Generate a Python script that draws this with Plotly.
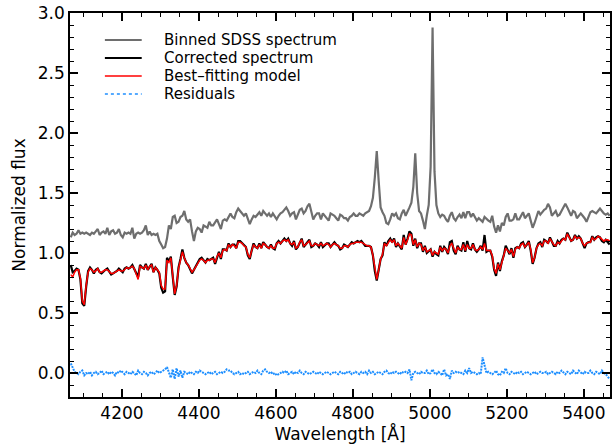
import plotly.graph_objects as go

# Wavelength grid of the binned spectrum [Angstrom]
WAVE_START = 4067
WAVE_STEP = 5
N_PIX = 281
wave = [WAVE_START + WAVE_STEP * i for i in range(N_PIX)]

binned_sdss = [
    1.13, 1.17, 1.15, 1.16, 1.19, 1.16, 1.17, 1.16, 1.17, 1.16,
    1.15, 1.17, 1.16, 1.18, 1.20, 1.15, 1.17, 1.18, 1.16, 1.21,
    1.15, 1.18, 1.19, 1.16, 1.17, 1.20, 1.15, 1.13, 1.17, 1.16,
    1.17, 1.16, 1.21, 1.12, 1.16, 1.17, 1.16, 1.17, 1.19, 1.23,
    1.15, 1.18, 1.15, 1.16, 1.15, 1.16, 1.10, 1.07, 1.04, 1.05,
    1.12, 1.23, 1.20, 1.30, 1.31, 1.25, 1.26, 1.30, 1.31, 1.35,
    1.28, 1.26, 1.28, 1.18, 1.10, 1.18, 1.21, 1.20, 1.17, 1.23,
    1.22, 1.21, 1.26, 1.23, 1.23, 1.26, 1.28, 1.24, 1.20, 1.27,
    1.28, 1.27, 1.30, 1.33, 1.30, 1.29, 1.34, 1.37, 1.35, 1.33,
    1.31, 1.33, 1.28, 1.24, 1.28, 1.31, 1.30, 1.32, 1.34, 1.31,
    1.35, 1.33, 1.31, 1.33, 1.30, 1.33, 1.31, 1.28, 1.31, 1.33,
    1.34, 1.36, 1.38, 1.35, 1.31, 1.33, 1.34, 1.28, 1.33, 1.36,
    1.37, 1.33, 1.35, 1.39, 1.41, 1.34, 1.28, 1.31, 1.33, 1.33,
    1.28, 1.33, 1.31, 1.29, 1.27, 1.33, 1.32, 1.31, 1.29, 1.27,
    1.32, 1.31, 1.29, 1.29, 1.27, 1.30, 1.31, 1.33, 1.31, 1.31,
    1.33, 1.32, 1.31, 1.33, 1.34, 1.35, 1.39, 1.46, 1.63, 1.85,
    1.60, 1.38, 1.34, 1.31, 1.25, 1.24, 1.28, 1.33, 1.31, 1.33,
    1.29, 1.28, 1.33, 1.36, 1.31, 1.34, 1.38, 1.42, 1.55, 1.83,
    1.50, 1.35, 1.33, 1.27, 1.20, 1.31, 1.40, 1.72, 2.88, 1.68,
    1.40, 1.33, 1.30, 1.32, 1.31, 1.28, 1.26, 1.31, 1.34, 1.29,
    1.27, 1.30, 1.32, 1.29, 1.34, 1.29, 1.34, 1.34, 1.30, 1.33,
    1.30, 1.27, 1.29, 1.27, 1.26, 1.30, 1.28, 1.27, 1.26, 1.31,
    1.22, 1.17, 1.23, 1.18, 1.25, 1.23, 1.30, 1.33, 1.27, 1.27,
    1.28, 1.33, 1.28, 1.28, 1.31, 1.34, 1.29, 1.31, 1.33, 1.27,
    1.21, 1.25, 1.30, 1.35, 1.32, 1.34, 1.36, 1.37, 1.41, 1.38,
    1.31, 1.33, 1.35, 1.31, 1.32, 1.35, 1.38, 1.41, 1.38, 1.34,
    1.31, 1.35, 1.34, 1.29, 1.31, 1.33, 1.31, 1.29, 1.26, 1.30,
    1.34, 1.35, 1.34, 1.33, 1.35, 1.37, 1.35, 1.33, 1.32, 1.33,
    1.31,
]

corrected = [
    0.90, 0.84, 0.85, 0.87, 0.86, 0.78, 0.58, 0.56, 0.72, 0.85,
    0.88, 0.86, 0.83, 0.86, 0.87, 0.84, 0.83, 0.85, 0.86, 0.87,
    0.84, 0.82, 0.83, 0.84, 0.85, 0.87, 0.85, 0.84, 0.87, 0.88,
    0.87, 0.88, 0.90, 0.87, 0.84, 0.80, 0.90, 0.88, 0.87, 0.91,
    0.86, 0.89, 0.91, 0.84, 0.88, 0.86, 0.83, 0.71, 0.67, 0.68,
    0.96, 0.93, 0.97, 0.80, 0.65, 0.72, 0.88, 0.95, 1.03, 0.96,
    0.92, 0.90, 0.87, 0.83, 0.86, 0.89, 0.92, 0.95, 0.96, 0.94,
    0.92, 0.95, 0.94, 0.95, 0.96, 0.91, 0.97, 1.01, 0.95, 1.03,
    1.03, 1.02, 1.08, 1.05, 1.07, 1.07, 1.04, 1.10, 1.10, 1.08,
    1.06, 1.05, 0.98, 0.95, 1.02, 1.08, 1.05, 1.04, 1.08, 1.04,
    1.09, 1.07, 1.05, 1.04, 1.07, 1.04, 1.03, 1.08, 1.10, 1.08,
    1.10, 1.12, 1.10, 1.12, 1.08, 1.06, 1.10, 1.03, 1.05, 1.09,
    1.12, 1.05, 1.07, 1.10, 1.11, 1.05, 1.06, 1.08, 1.07, 1.05,
    1.09, 1.05, 1.07, 1.08, 1.08, 1.05, 1.07, 1.09, 1.07, 1.06,
    1.03, 1.04, 1.07, 1.06, 1.05, 1.07, 1.09, 1.08, 1.09, 1.10,
    1.09, 1.10, 1.08, 1.06, 1.06, 1.06, 1.05, 0.98, 0.85, 0.77,
    0.86, 0.95, 0.98, 1.09, 1.06, 1.10, 1.12, 1.09, 1.12, 1.05,
    1.08, 1.05, 1.03, 1.15, 1.07, 1.12, 1.18, 1.16, 1.06, 1.12,
    1.04, 1.08, 1.08, 1.01, 1.06, 1.00, 1.02, 1.03, 0.97, 1.01,
    0.99, 0.98, 1.06, 1.01, 1.05, 1.03, 0.99, 1.09, 1.10, 1.02,
    0.99, 1.06, 1.03, 1.02, 1.09, 1.01, 1.10, 1.04, 1.03, 1.08,
    1.03, 1.01, 1.03, 1.06, 1.02, 1.15, 1.01, 1.02, 1.02, 0.97,
    0.86, 0.81, 0.92, 0.85, 0.93, 0.98, 1.06, 1.02, 0.99, 1.04,
    0.96, 1.04, 1.05, 1.04, 1.08, 1.09, 1.05, 1.07, 1.10, 1.02,
    0.91, 0.96, 1.04, 1.08, 1.09, 1.05, 1.11, 1.10, 1.08, 1.13,
    1.09, 1.06, 1.06, 1.10, 1.08, 1.11, 1.12, 1.11, 1.17, 1.13,
    1.10, 1.11, 1.15, 1.12, 1.14, 1.12, 1.07, 1.04, 1.08, 1.09,
    1.09, 1.14, 1.11, 1.13, 1.14, 1.13, 1.10, 1.09, 1.11, 1.09,
    1.07,
]

best_fit = [
    0.82, 0.80, 0.84, 0.86, 0.86, 0.79, 0.60, 0.57, 0.73, 0.84,
    0.87, 0.86, 0.84, 0.85, 0.87, 0.84, 0.84, 0.85, 0.86, 0.86,
    0.84, 0.83, 0.83, 0.84, 0.85, 0.86, 0.85, 0.85, 0.86, 0.88,
    0.87, 0.88, 0.89, 0.87, 0.83, 0.78, 0.89, 0.88, 0.87, 0.90,
    0.86, 0.89, 0.90, 0.84, 0.88, 0.86, 0.84, 0.73, 0.70, 0.70,
    0.94, 0.92, 0.96, 0.81, 0.66, 0.73, 0.87, 0.94, 1.01, 0.96,
    0.92, 0.90, 0.87, 0.84, 0.86, 0.89, 0.91, 0.94, 0.95, 0.94,
    0.92, 0.94, 0.94, 0.95, 0.95, 0.92, 0.97, 1.00, 0.96, 1.02,
    1.03, 1.02, 1.07, 1.05, 1.07, 1.06, 1.04, 1.09, 1.09, 1.08,
    1.06, 1.05, 0.99, 0.96, 1.02, 1.07, 1.05, 1.04, 1.07, 1.04,
    1.08, 1.07, 1.05, 1.04, 1.06, 1.04, 1.04, 1.08, 1.09, 1.08,
    1.10, 1.11, 1.10, 1.11, 1.08, 1.07, 1.09, 1.04, 1.05, 1.09,
    1.11, 1.06, 1.07, 1.09, 1.10, 1.06, 1.06, 1.08, 1.07, 1.06,
    1.08, 1.06, 1.07, 1.08, 1.07, 1.05, 1.07, 1.08, 1.07, 1.06,
    1.04, 1.04, 1.06, 1.06, 1.05, 1.07, 1.08, 1.08, 1.09, 1.09,
    1.09, 1.09, 1.08, 1.07, 1.06, 1.06, 1.05, 0.98, 0.86, 0.78,
    0.86, 0.95, 0.99, 1.08, 1.06, 1.09, 1.11, 1.09, 1.11, 1.06,
    1.08, 1.06, 1.04, 1.13, 1.07, 1.11, 1.16, 1.15, 1.07, 1.11,
    1.05, 1.08, 1.07, 1.02, 1.05, 1.01, 1.02, 1.03, 0.98, 1.01,
    1.00, 0.99, 1.05, 1.02, 1.04, 1.03, 1.00, 1.06, 1.08, 1.03,
    1.00, 1.05, 1.03, 1.03, 1.07, 1.02, 1.07, 1.04, 1.04, 1.07,
    1.03, 1.02, 1.03, 1.05, 1.03, 1.08, 1.02, 1.02, 1.02, 0.98,
    0.87, 0.83, 0.91, 0.86, 0.92, 0.98, 1.04, 1.02, 1.00, 1.03,
    0.97, 1.03, 1.05, 1.04, 1.07, 1.08, 1.05, 1.07, 1.09, 1.03,
    0.92, 0.96, 1.04, 1.07, 1.08, 1.06, 1.10, 1.10, 1.08, 1.12,
    1.09, 1.07, 1.06, 1.09, 1.08, 1.10, 1.12, 1.11, 1.16, 1.13,
    1.10, 1.11, 1.14, 1.12, 1.13, 1.12, 1.08, 1.06, 1.08, 1.09,
    1.09, 1.13, 1.11, 1.12, 1.14, 1.13, 1.11, 1.10, 1.11, 1.11,
    1.10,
]

residuals = [
    0.08, 0.04, 0.01, 0.00, -0.01, 0.01, 0.02, -0.02, 0.00, -0.01,
    0.01, -0.02, 0.00, 0.01, -0.01, 0.00, 0.02, -0.01, 0.00, 0.01,
    -0.01, 0.01, 0.00, -0.02, 0.01, 0.00, 0.02, 0.00, -0.01, 0.01,
    0.00, -0.01, 0.01, 0.00, -0.02, 0.02, 0.00, -0.01, 0.01, 0.00,
    -0.02, 0.00, 0.01, -0.01, 0.00, 0.02, 0.00, 0.01, 0.02, 0.03,
    0.05, 0.01, -0.04, 0.03, -0.05, 0.04, -0.03, 0.02, -0.04, 0.01,
    0.00, -0.01, 0.01, 0.00, -0.01, 0.01, 0.00, 0.02, 0.01, 0.00,
    -0.01, 0.00, 0.01, -0.01, 0.00, 0.01, -0.01, 0.00, 0.01, 0.00,
    0.01, 0.03, 0.02, 0.02, 0.00, -0.01, 0.00, 0.01, -0.01, 0.00,
    -0.01, 0.00, 0.01, -0.01, 0.00, 0.01, 0.00, 0.02, 0.00, -0.01,
    0.02, 0.03, 0.01, 0.00, 0.01, -0.01, 0.00, -0.02, -0.01, 0.00,
    0.01, 0.00, 0.02, -0.01, 0.00, 0.01, -0.01, 0.01, 0.00, 0.02,
    0.00, -0.01, 0.01, 0.00, -0.01, 0.00, 0.01, 0.00, -0.01, 0.01,
    0.00, -0.01, 0.00, 0.01, 0.00, -0.01, 0.00, 0.01, 0.00, -0.01,
    0.01, 0.00, -0.01, 0.01, 0.00, 0.01, -0.01, 0.00, 0.01, 0.00,
    -0.01, 0.01, 0.00, 0.01, -0.01, 0.02, 0.00, 0.01, -0.01, 0.00,
    0.01, 0.00, -0.01, 0.01, 0.02, 0.00, -0.01, 0.01, 0.00, 0.01,
    0.00, -0.01, 0.01, 0.00, 0.01, 0.00, 0.03, -0.06, 0.00, 0.01,
    0.00, -0.01, 0.01, 0.00, 0.00, 0.02, -0.01, 0.00, 0.03, 0.00,
    -0.01, 0.01, 0.00, -0.02, 0.03, -0.02, -0.01, -0.05, 0.02, 0.00,
    0.01, 0.00, 0.01, 0.00, -0.01, 0.02, 0.00, 0.04, 0.00, 0.01,
    0.00, -0.01, 0.00, -0.01, 0.13, 0.05, 0.00, 0.01, 0.00, -0.01,
    0.00, 0.02, -0.01, -0.02, 0.01, 0.00, 0.04, 0.00, -0.01, 0.01,
    0.00, -0.01, 0.01, 0.00, 0.01, -0.01, 0.00, 0.01, 0.00, -0.01,
    0.00, 0.01, -0.01, 0.00, 0.01, 0.00, 0.00, 0.01, -0.01, 0.00,
    0.01, 0.00, -0.01, 0.01, 0.00, 0.02, 0.00, -0.01, 0.01, 0.00,
    -0.01, 0.02, 0.00, -0.01, 0.02, 0.00, -0.01, 0.01, 0.00, 0.00,
    0.02, 0.00, -0.01, 0.01, 0.00, -0.01, 0.02, 0.00, -0.01, -0.03,
    -0.05,
]

SERIES_NAMES = ["Binned SDSS spectrum", "Corrected spectrum",
                "Best\u2013fitting model", "Residuals"]

X_RANGE = [4065, 5468]
Y_RANGE = [-0.2, 3.0]

FONT = "DejaVu Sans"
STYLES = [
    dict(color="#6e6e6e", width=2.2, dash="solid"),
    dict(color="black", width=2.2, dash="solid"),
    dict(color="#ff0000", width=1.5, dash="solid"),
    dict(color="#1e8fff", width=2, dash="2px,1px"),
]

fig = go.Figure()
for name, ys, st in zip(SERIES_NAMES,
                        [binned_sdss, corrected, best_fit, residuals], STYLES):
    fig.add_trace(go.Scatter(x=wave, y=ys, mode="lines", name=name,
                             line=st, showlegend=False))

# Legend drawn in the plot area (paper coordinates), matching the reference
shapes, annotations = [], []
LEG_X0, LEG_X1, LEG_TX = 0.0646, 0.1328, 0.1716
LEG_Y = [0.9297, 0.8828, 0.8359, 0.7891]
for name, st, ly in zip(SERIES_NAMES, STYLES, LEG_Y):
    legst = dict(st)
    if legst["dash"] != "solid":
        legst["dash"] = "dot"
        legst["width"] = 1.5
    shapes.append(dict(type="line", xref="paper", yref="paper",
                       x0=LEG_X0, x1=LEG_X1, y0=ly, y1=ly, line=legst))
    annotations.append(dict(xref="paper", yref="paper", x=LEG_TX, y=ly,
                            xanchor="left", yanchor="middle", text=name,
                            showarrow=False, borderpad=0,
                            font=dict(family=FONT, size=15, color="black")))

axis_common = dict(
    showgrid=False, zeroline=False, showline=True, linecolor="black",
    linewidth=1.5, mirror="allticks", ticks="inside", tickcolor="black",
    tickwidth=1.5, ticklen=8,
    tickfont=dict(family=FONT, size=17, color="black"),
)

fig.update_layout(
    width=613, height=445,
    margin=dict(l=70, r=1, t=13, b=48),
    paper_bgcolor="white", plot_bgcolor="white",
    font=dict(family=FONT, color="black"),
    showlegend=False,
    shapes=shapes, annotations=annotations,
    xaxis=dict(range=X_RANGE, dtick=200, tick0=4000,
               title=dict(text="Wavelength [\u00c5]", standoff=2,
                          font=dict(family=FONT, size=17, color="black")),
               minor=dict(dtick=50, tick0=4000, ticks="inside", ticklen=4,
                          tickcolor="black", tickwidth=1.2),
               **axis_common),
    yaxis=dict(range=Y_RANGE, dtick=0.5, tick0=0, tickformat=".1f",
               title=dict(text="Normalized flux", standoff=8,
                          font=dict(family=FONT, size=17, color="black")),
               minor=dict(dtick=0.1, tick0=0, ticks="inside", ticklen=4,
                          tickcolor="black", tickwidth=1.2),
               **axis_common),
)

fig.write_html("out.html")
